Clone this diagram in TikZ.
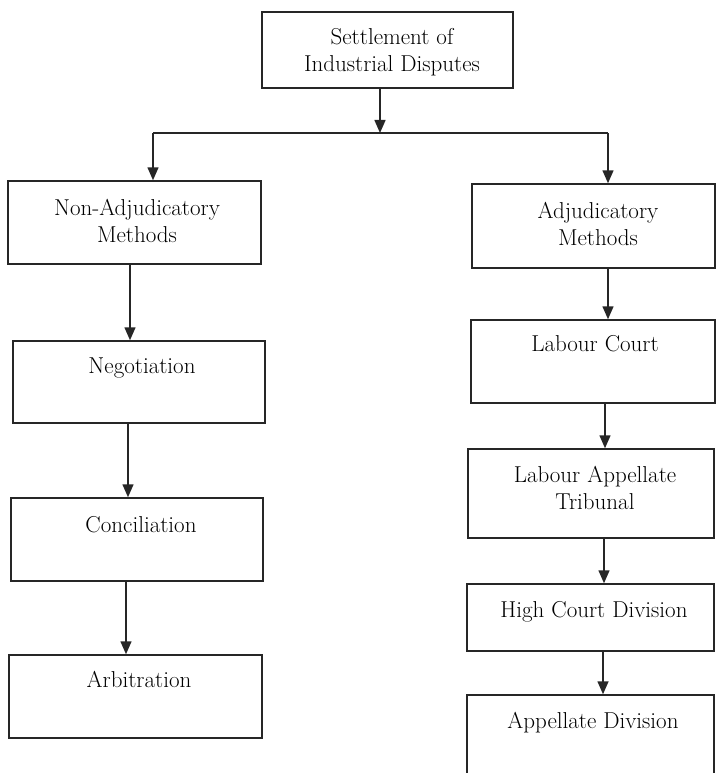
\documentclass[tikz,border=0pt]{standalone}
\usetikzlibrary{arrows.meta,fit}
\begin{document}
\begin{tikzpicture}[x=1pt,y=-1pt,
  box/.style={draw=black!85,line width=1.5pt,inner sep=0pt,rectangle},
  lbl/.style={font=\fontsize{23}{27}\selectfont,align=center,inner sep=0pt,text=black},
  arr/.style={draw=black!85,line width=1.5pt,-{Triangle[width=11pt,length=13pt]}},
  ln/.style={draw=black!85,line width=1.5pt}]
\useasboundingbox (0,0) rectangle (716,773);
% boxes
\node[box,fit={(262,12)(513,88)}] (top) {};
\node[box,fit={(8,181)(261,264)}] (nonadj) {};
\node[box,fit={(472,184)(715,268)}] (adj) {};
\node[box,fit={(13,341)(265,423)}] (neg) {};
\node[box,fit={(11,498)(263,581)}] (conc) {};
\node[box,fit={(9,655)(262,738)}] (arb) {};
\node[box,fit={(471,320)(715,403)}] (lc) {};
\node[box,fit={(468,449)(714,538)}] (lat) {};
\node[box,fit={(467,584)(714,651)}] (hcd) {};
\node[box,fit={(467,695)(714,790)}] (ad) {};
% texts (two-line nodes: base = last line)
\node[lbl,anchor=base] (ttop) at (392,72) {Settlement of\\Industrial Disputes};
\node[lbl,anchor=base] (tnonadj) at (137,242) {Non-Adjudicatory\\Methods};
\node[lbl,anchor=base] (tadj) at (598,245) {Adjudicatory\\Methods};
\node[lbl,anchor=base] (tneg) at (142,373) {Negotiation};
\node[lbl,anchor=base] (tconc) at (141,532) {Conciliation};
\node[lbl,anchor=base] (tarb) at (139,687) {Arbitration};
\node[lbl,anchor=base] (tlc) at (595,351) {Labour Court};
\node[lbl,anchor=base] (tlat) at (595,509) {Labour Appellate\\Tribunal};
\node[lbl,anchor=base] (thcd) at (594,617) {High Court Division};
\node[lbl,anchor=base] (tad) at (593,728) {Appellate Division};
% connectors
\coordinate (j) at (380,133);
\coordinate (jl) at (153,133);
\coordinate (jr) at (608,133);
\draw[arr] (top.south -| j) -- (j);
\draw[ln] (jl) -- (jr);
\draw[arr] (jl) -- (nonadj.north -| jl);
\draw[arr] (jr) -- (adj.north -| jr);
\coordinate (x1) at (130,0);
\coordinate (x2) at (128,0);
\coordinate (x3) at (126,0);
\draw[arr] (nonadj.south -| x1) -- (neg.north -| x1);
\draw[arr] (neg.south -| x2) -- (conc.north -| x2);
\draw[arr] (conc.south -| x3) -- (arb.north -| x3);
\coordinate (r1) at (608,0);
\coordinate (r2) at (605,0);
\coordinate (r3) at (604,0);
\coordinate (r4) at (603,0);
\draw[arr] (adj.south -| r1) -- (lc.north -| r1);
\draw[arr] (lc.south -| r2) -- (lat.north -| r2);
\draw[arr] (lat.south -| r3) -- (hcd.north -| r3);
\draw[arr] (hcd.south -| r4) -- (ad.north -| r4);
\end{tikzpicture}
\end{document}
